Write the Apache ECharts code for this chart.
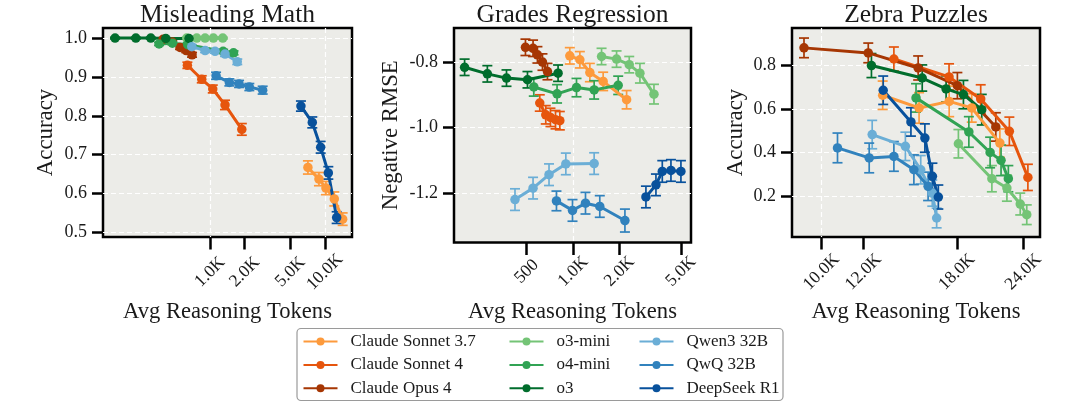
<!DOCTYPE html>
<html>
<head>
<meta charset="utf-8">
<script src="https://cdn.jsdelivr.net/npm/echarts@6/dist/echarts.min.js"></script>
<style>
html,body{margin:0;padding:0;background:#ffffff}
#chart{width:1080px;height:407px}
</style>
</head>
<body>
<div id="chart"></div>
<script>
// models in legend order (column by column)
var models = ['Claude Sonnet 3.7', 'Claude Sonnet 4', 'Claude Opus 4',
              'o3-mini', 'o4-mini', 'o3',
              'Qwen3 32B', 'QwQ 32B', 'DeepSeek R1'];
var modelColors = ['#fd9a3c', '#e6550d', '#a63603',
                   '#74c476', '#31a354', '#006d2c',
                   '#6baed6', '#3182bd', '#08519c'];

// each point: [avg reasoning tokens, score, error half-width]
var mathPoints = [
  [[7110,0.667,0.017],[8870,0.637,0.017],[10200,0.614,0.017],[12060,0.586,0.018],[14260,0.534,0.016]],
  [[635,0.930,0.008],[847,0.894,0.009],[1056,0.869,0.010],[1350,0.828,0.012],[1890,0.765,0.015]],
  [[390,0.997,0.004],[468,0.990,0.004],[548,0.976,0.005],[620,0.968,0.005],[697,0.957,0.006]],
  [[627,1.0,0.002],[766,1.0,0.002],[905,1.0,0.002],[1069,1.0,0.002],[1290,1.0,0.002]],
  [[360,0.985,0.004],[470,0.987,0.004],[640,0.983,0.005],[1300,0.966,0.005],[1600,0.962,0.005]],
  [[149,1.0,0.002],[226,1.0,0.002],[305,1.0,0.002],[412,0.999,0.002],[656,0.999,0.002]],
  [[693,0.978,0.005],[905,0.968,0.005],[1105,0.966,0.005],[1350,0.959,0.006],[1725,0.939,0.007]],
  [[1128,0.903,0.009],[1472,0.886,0.009],[1788,0.882,0.009],[2197,0.874,0.009],[2871,0.866,0.010]],
  [[6180,0.825,0.013],[7760,0.783,0.014],[9180,0.719,0.015],[10700,0.653,0.016],[12650,0.538,0.015]]
];
var gradesPoints = [
  [[952,-0.781,0.025],[1106,-0.793,0.025],[1284,-0.832,0.028],[1566,-0.859,0.028],[2222,-0.915,0.028]],
  [[608,-0.925,0.025],[665,-0.961,0.028],[713,-0.969,0.028],[769,-0.976,0.028],[820,-0.979,0.028]],
  [[491,-0.755,0.025],[550,-0.758,0.025],[587,-0.778,0.025],[633,-0.800,0.025],[682,-0.829,0.025]],
  [[1529,-0.783,0.025],[1913,-0.791,0.025],[2311,-0.808,0.025],[2711,-0.834,0.030],[3343,-0.898,0.030]],
  [[556,-0.876,0.028],[787,-0.897,0.028],[1052,-0.878,0.028],[1369,-0.885,0.028],[1960,-0.871,0.028]],
  [[198,-0.816,0.025],[278,-0.836,0.025],[370,-0.849,0.025],[506,-0.854,0.025],[799,-0.834,0.025]],
  [[420,-1.220,0.033],[550,-1.185,0.033],[698,-1.144,0.033],[897,-1.111,0.033],[1369,-1.110,0.033]],
  [[780,-1.224,0.030],[991,-1.253,0.033],[1203,-1.231,0.033],[1489,-1.241,0.033],[2167,-1.284,0.035]],
  [[2965,-1.212,0.033],[3443,-1.175,0.033],[3785,-1.134,0.033],[4307,-1.131,0.033],[4999,-1.134,0.033]]
];
var zebraPoints = [
  [[13040,0.663,0.065],[15270,0.605,0.070],[17400,0.635,0.070],[19190,0.605,0.065],[21680,0.444,0.065]],
  [[13690,0.829,0.055],[17390,0.747,0.060],[19950,0.646,0.065],[22590,0.498,0.065],[24480,0.287,0.060]],
  [[9270,0.880,0.045],[12250,0.857,0.045],[15210,0.788,0.055],[18030,0.707,0.060],[21300,0.518,0.065]],
  [[18110,0.441,0.065],[20940,0.281,0.060],[22350,0.238,0.060],[23680,0.165,0.050],[24360,0.116,0.045]],
  [[15070,0.651,0.065],[18950,0.495,0.070],[20780,0.401,0.070],[21790,0.365,0.070],[22490,0.281,0.060]],
  [[12420,0.799,0.055],[15480,0.742,0.060],[17170,0.692,0.060],[18510,0.666,0.065],[20040,0.597,0.070]],
  [[12460,0.483,0.065],[14390,0.429,0.065],[15380,0.322,0.065],[16170,0.215,0.060],[16480,0.101,0.045]],
  [[10720,0.422,0.068],[12300,0.376,0.068],[13690,0.383,0.068],[14930,0.322,0.068],[15880,0.246,0.065]],
  [[13070,0.686,0.065],[14740,0.541,0.065],[15660,0.467,0.065],[16180,0.292,0.060],[16600,0.197,0.055]]
];

// tick labels
var mathXTicks = [1000, 2000, 5000, 10000];
var gradesXTicks = [500, 1000, 2000, 5000];
var zebraXTicks = [10000, 12000, 18000, 24000];
var mathYTicks = [0.5, 0.6, 0.7, 0.8, 0.9, 1.0];
var gradesYTicks = [-1.2, -1.0, -0.8];
var zebraYTicks = [0.2, 0.4, 0.6, 0.8];

(function(){
  var el = document.getElementById('chart');
  var c = echarts.init(el);
  var FONT = '"Liberation Serif", "DejaVu Serif", serif';
  var txt = '#1a1a1a';
  var bg = '#ecece8';

  var panels = [
    {title:'Misleading Math', pts:mathPoints, xTicks:mathXTicks, yTicks:mathYTicks, gridX:[1000,10000],
     xMin:117, xMax:17200, yMin:0.488, yMax:1.026, yName:'Accuracy',
     left:103, width:249, height:209, yNameGap:45, xNameGap:64, xLabelMargin:35},
    {title:'Grades Regression', pts:gradesPoints, xTicks:gradesXTicks, yTicks:gradesYTicks, gridX:[1000],
     xMin:169, xMax:5810, yMin:-1.351, yMax:-0.696, yName:'Negative RMSE',
     left:454, width:237, height:214.5, yNameGap:51, xNameGap:58, xLabelMargin:29},
    {title:'Zebra Puzzles', pts:zebraPoints, xTicks:zebraXTicks, yTicks:zebraYTicks, gridX:[10000],
     xMin:8800, xMax:25800, yMin:0.014, yMax:0.971, yName:'Accuracy',
     left:792, width:248, height:209, yNameGap:44, xNameGap:64, xLabelMargin:35}
  ];

  function fmtX(v){ return v >= 1000 ? (v/1000).toFixed(1) + 'K' : String(v); }

  var grids = [], xAxes = [], yAxes = [], series = [], graphics = [];

  panels.forEach(function(p, i){
    grids.push({left:p.left, top:28, width:p.width, height:p.height, show:true,
      backgroundColor:bg, borderColor:'#000', borderWidth:2.5, containLabel:false});

    xAxes.push({type:'log', gridIndex:i, min:p.xMin, max:p.xMax, position:'bottom',
      name:'Avg Reasoning Tokens', nameLocation:'middle', nameGap:p.xNameGap,
      nameTextStyle:{fontFamily:FONT, fontSize:22.6, color:txt},
      axisLine:{show:false, onZero:false},
      axisTick:{show:true, length:12.5, inside:false, customValues:p.xTicks, lineStyle:{color:'#000', width:2.5}},
      axisLabel:{show:true, customValues:p.xTicks, rotate:45, align:'center', verticalAlign:'middle',
        margin:p.xLabelMargin, fontFamily:FONT, fontSize:17.5, color:txt, formatter:fmtX},
      splitLine:{show:false}, minorTick:{show:false}, minorSplitLine:{show:false}});
    // second, silent axis only for the dashed decade grid lines
    xAxes.push({type:'log', gridIndex:i, min:p.xMin, max:p.xMax, position:'top',
      axisLine:{show:false}, axisLabel:{show:false},
      axisTick:{show:false, customValues:p.gridX},
      splitLine:{show:true, customValues:p.gridX, lineStyle:{color:'#ffffff', width:1.2, type:[5,3]}}});

    yAxes.push({type:'value', gridIndex:i, min:p.yMin, max:p.yMax,
      name:p.yName, nameLocation:'middle', nameGap:p.yNameGap,
      nameTextStyle:{fontFamily:FONT, fontSize:22.8, color:txt},
      axisLine:{show:false, onZero:false},
      axisTick:{show:true, length:11, inside:false, customValues:p.yTicks, lineStyle:{color:'#000', width:2.5}},
      axisLabel:{show:true, customValues:p.yTicks, margin:16, fontFamily:FONT, fontSize:18, color:txt,
        formatter:function(v){ return v.toFixed(1); }},
      splitLine:{show:true, lineStyle:{color:'#ffffff', width:1.2, type:[5,3]}}});

    graphics.push({type:'text', x:p.left + p.width/2, y:15,
      style:{text:p.title, fontFamily:FONT, fontSize:25.5, fill:txt, align:'center', verticalAlign:'middle'}});

    p.pts.forEach(function(pts, m){
      var col = modelColors[m];
      series.push({type:'custom', name:models[m] + ' err', xAxisIndex:i*2, yAxisIndex:i,
        silent:true, z:2, animation:false, data:pts, encode:{x:0, y:1},
        renderItem:function(params, api){
          var x = api.value(0), y = api.value(1), e = api.value(2);
          var lo = api.coord([x, y - e]), hi = api.coord([x, y + e]);
          var w = 5;
          var st = {stroke:col, lineWidth:1.7};
          return {type:'group', children:[
            {type:'line', shape:{x1:lo[0], y1:lo[1], x2:hi[0], y2:hi[1]}, style:st},
            {type:'line', shape:{x1:lo[0]-w, y1:lo[1], x2:lo[0]+w, y2:lo[1]}, style:st},
            {type:'line', shape:{x1:hi[0]-w, y1:hi[1], x2:hi[0]+w, y2:hi[1]}, style:st}
          ]};
        }});
      series.push({type:'line', name:models[m], xAxisIndex:i*2, yAxisIndex:i, z:2,
        data:pts.map(function(d){ return [d[0], d[1]]; }),
        symbol:'circle', symbolSize:9.5, showSymbol:true, animation:false, silent:true,
        lineStyle:{color:col, width:3}, itemStyle:{color:col}, emphasis:{disabled:true}});
    });
  });

  // legend frame
  graphics.push({type:'rect', z:-1, shape:{x:297, y:328.5, width:486, height:72, r:4},
    style:{fill:'#ffffff', stroke:'#9a9a9a', lineWidth:1.2}});

  var legendLeft = [302.5, 508.5, 638.5];
  var legends = legendLeft.map(function(lx, k){
    return {orient:'vertical', left:lx, top:333, padding:0, itemWidth:34, itemHeight:10, itemGap:6.4,
      selectedMode:false, data:models.slice(k*3, k*3 + 3),
      textStyle:{fontFamily:FONT, fontSize:17, color:txt, lineHeight:16, padding:[0,0,0,8]}};
  });

  c.setOption({
    animation:false,
    textStyle:{fontFamily:FONT},
    grid:grids, xAxis:xAxes, yAxis:yAxes, series:series,
    legend:legends, graphic:graphics
  });
})();
</script>
</body>
</html>
